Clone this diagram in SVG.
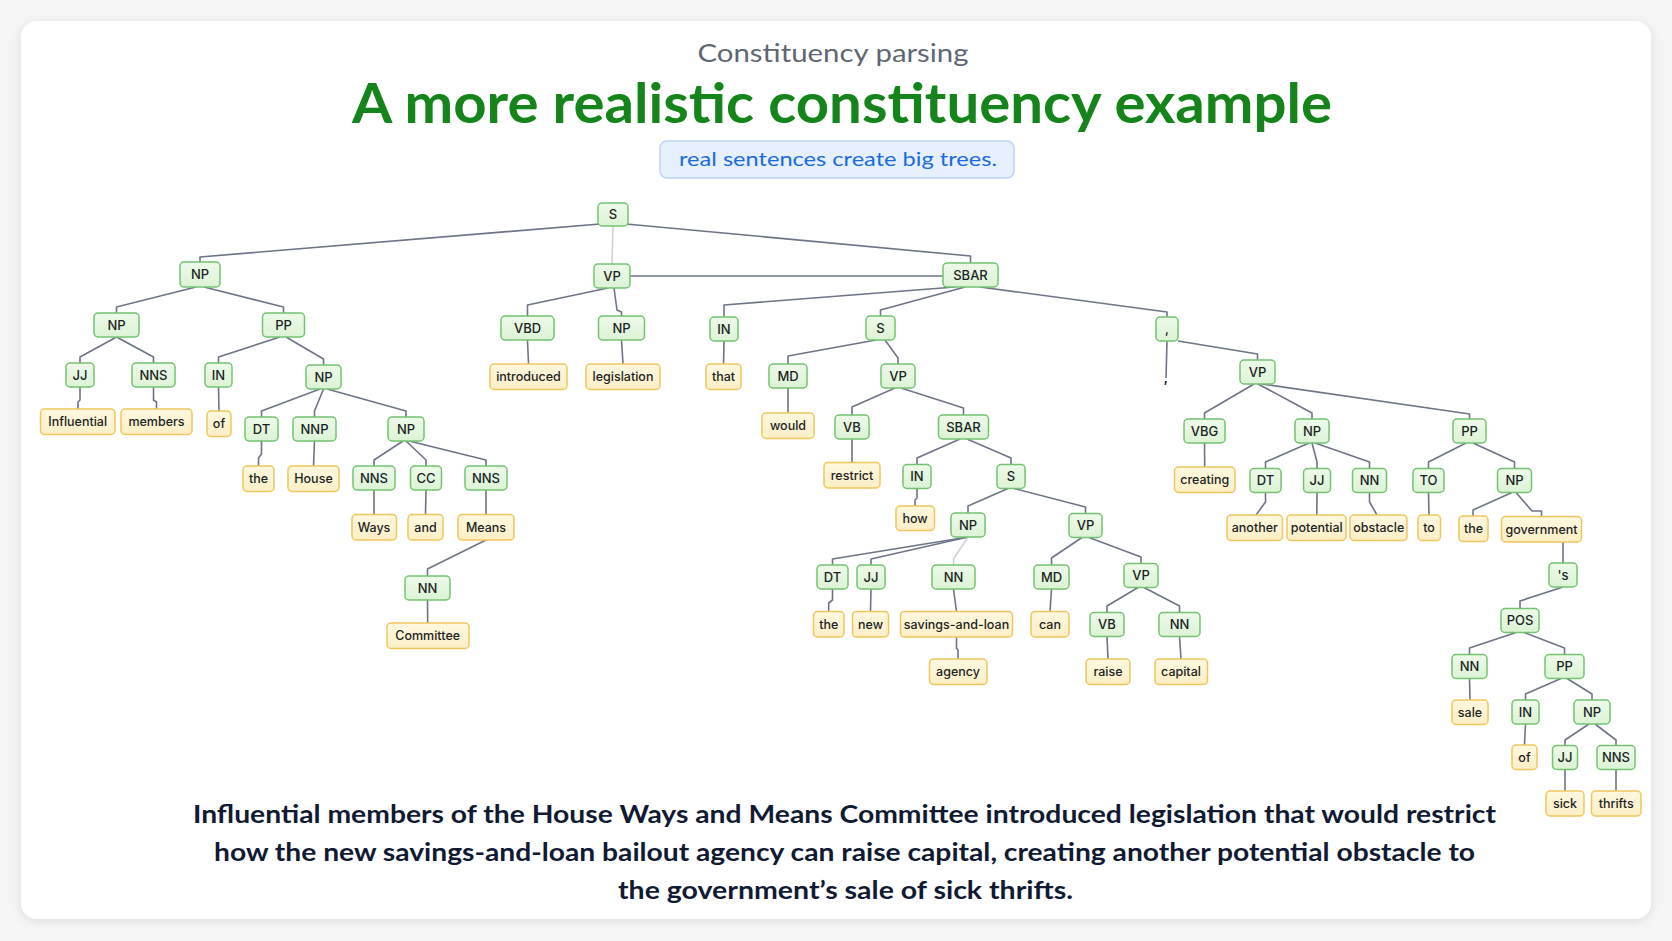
<svg xmlns="http://www.w3.org/2000/svg" width="1672" height="941" viewBox="0 0 1672 941">
<defs>
<filter id="sh" x="-5%" y="-5%" width="110%" height="110%">
<feDropShadow dx="0" dy="2" stdDeviation="5" flood-color="#000" flood-opacity="0.10"/>
</filter>
<linearGradient id="gg" x1="0" y1="0" x2="0" y2="1"><stop offset="0" stop-color="#eefaea"/><stop offset="1" stop-color="#dcf3d5"/></linearGradient>
<linearGradient id="yg" x1="0" y1="0" x2="0" y2="1"><stop offset="0" stop-color="#fef8e0"/><stop offset="1" stop-color="#fcefc6"/></linearGradient>
</defs>
<style>
.nt rect{fill:url(#gg);stroke:#74c271;stroke-width:1.5}
.lf rect{fill:url(#yg);stroke:#efc65c;stroke-width:1.5}
.nt text,.lf text{font-family:Inter,"Liberation Sans",sans-serif;font-size:13px;font-weight:500;fill:#1c1f24;text-anchor:middle}
.lf text{font-size:12.5px}
#connectors path{fill:none;stroke:#6c7486;stroke-width:1.6;stroke-linejoin:round}
#connectors path.faint{stroke:#cdd1d8}
.hd{font-family:Lato,"Liberation Sans",sans-serif;text-anchor:middle}
</style>
<rect x="0" y="0" width="1672" height="941" fill="#f5f5f6"/>
<rect x="21" y="21" width="1630" height="898" rx="16" fill="#ffffff" filter="url(#sh)"/>

<text class="hd" x="833" y="62" font-size="25" fill="#5f6674" textLength="271" lengthAdjust="spacingAndGlyphs">Constituency parsing</text>
<text class="hd" x="842" y="123" font-size="55" font-weight="bold" fill="#15841a" textLength="980" lengthAdjust="spacingAndGlyphs">A more realistic constituency example</text>
<g id="subtitle">
<rect x="660" y="141" width="354" height="37" rx="7" fill="#e6f0fe" stroke="#bcd4f6" stroke-width="1.5"/>
<text class="hd" x="838" y="166" font-size="20" fill="#1a6be0" textLength="318" lengthAdjust="spacingAndGlyphs">real sentences create big trees.</text>
</g>

<g id="connectors">
<path d="M600 224 L200 257 L200 262"/>
<path class="faint" d="M613 226 L612 264"/>
<path d="M626 224 L970.5 256 L970.5 263"/>
<path d="M630 276 L943 276"/>
<path d="M196 287 L116.5 307 L116.5 313"/>
<path d="M204 287 L283.5 307 L283.5 313"/>
<path d="M116.5 337 L80 357 L80 363"/>
<path d="M116.5 337 L153.5 357 L153.5 363"/>
<path d="M280 337 L218.5 357 L218.5 363"/>
<path d="M286 337 L323.5 359 L323.5 365"/>
<path d="M80 387 L80 400 L78 402 L78 409"/>
<path d="M153.5 387 L153.5 400 L156.5 402 L156.5 409"/>
<path d="M218.5 387 L219 411"/>
<path d="M320 389 L261.5 411 L261.5 417"/>
<path d="M323.5 389 L314.5 411 L314.5 417"/>
<path d="M327 389 L406 411 L406 417"/>
<path d="M261.5 441 L261.5 454 L258.5 458 L258.5 466"/>
<path d="M314.5 441 L313.5 466"/>
<path d="M403 441 L374 460 L374 466"/>
<path d="M406 441 L426 460 L426 466"/>
<path d="M409 441 L486 460 L486 466"/>
<path d="M374 490 L374 514.5"/>
<path d="M426 490 L425.5 514.5"/>
<path d="M486 490 L486 514.5"/>
<path d="M486 540 L427.5 569 L427.5 576"/>
<path d="M427.5 600 L427.7 623"/>
<path d="M608 288 L527.5 305 L527.5 316"/>
<path d="M614 288 L617 310 L621.5 312 L621.5 316"/>
<path d="M527.5 340 L528.5 364"/>
<path d="M621.5 340 L623 364"/>
<path d="M955 287 L724 305 L724 317"/>
<path d="M965 287 L880.5 310 L880.5 316"/>
<path d="M980 287 L1167 312 L1167 317"/>
<path d="M724 341 L723.5 364"/>
<path d="M876 340 L788 356 L788 364"/>
<path d="M885 340 L898 358 L898 364"/>
<path d="M788 388 L788 413"/>
<path d="M895 388 L852 407 L852 415"/>
<path d="M901 388 L963.5 408 L963.5 415"/>
<path d="M852 439 L852 462.5"/>
<path d="M960 439 L917 458 L917 464.5"/>
<path d="M967 439 L1011 458 L1011 464.5"/>
<path d="M917 488.5 L917 498 L915 500 L915 506"/>
<path d="M1008 488.5 L968 506 L968 513"/>
<path d="M1014 488.5 L1085.5 507 L1085.5 513.5"/>
<path d="M968 537 L832.5 559 L832.5 565"/>
<path d="M968 537 L871 559 L871 565"/>
<path class="faint" d="M968 537 L953.5 559 L953.5 565"/>
<path d="M832.5 589 L832.5 600 L828.7 603 L828.7 611.5"/>
<path d="M871 589 L870.5 611.5"/>
<path d="M953.5 589 L956.5 611.5"/>
<path d="M956.5 637 L956.5 648 L958 650 L958 659"/>
<path d="M1082 537.5 L1051.5 558 L1051.5 565"/>
<path d="M1089 537.5 L1141 557 L1141 563.5"/>
<path d="M1051.5 589 L1050 611.5"/>
<path d="M1138 587.5 L1107 606 L1107 612.5"/>
<path d="M1144 587.5 L1179.5 606 L1179.5 612.5"/>
<path d="M1107 636.5 L1108 659"/>
<path d="M1179.5 636.5 L1181 659"/>
<path d="M1178 341 L1257.5 354 L1257.5 360"/>
<path d="M1167 341 L1166 378"/>
<path d="M1254 384 L1204.5 413 L1204.5 419"/>
<path d="M1258 384 L1312 413 L1312 419"/>
<path d="M1262 384 L1469.5 414 L1469.5 419"/>
<path d="M1204.5 443 L1204.7 467"/>
<path d="M1309 443 L1265.5 462 L1265.5 468.5"/>
<path d="M1312 443 L1317 462 L1317 468.5"/>
<path d="M1315 443 L1369.5 462 L1369.5 468.5"/>
<path d="M1466 443 L1428.5 462 L1428.5 468.5"/>
<path d="M1473 443 L1514.5 462 L1514.5 468.5"/>
<path d="M1265.5 492.5 L1265.5 502 L1256 515"/>
<path d="M1317 492.5 L1316.8 515"/>
<path d="M1369.5 492.5 L1369.5 502 L1377 515"/>
<path d="M1428.5 492.5 L1429 515"/>
<path d="M1512 492.5 L1473 510 L1473 516"/>
<path d="M1516 492.5 L1532 511 L1541.5 511 L1541.5 516.5"/>
<path d="M1563 541.5 L1563 563"/>
<path d="M1563 587 L1520 601 L1520 608.5"/>
<path d="M1516 632.5 L1469.5 648 L1469.5 654.5"/>
<path d="M1524 632.5 L1564.5 648 L1564.5 654.5"/>
<path d="M1469.5 678.5 L1470 700"/>
<path d="M1561 678.5 L1525.5 694 L1525.5 700"/>
<path d="M1567 678.5 L1592 694 L1592 700"/>
<path d="M1525.5 724 L1524.5 745"/>
<path d="M1589 724 L1565 740 L1565 745.5"/>
<path d="M1595 724 L1616 740 L1616 745.5"/>
<path d="M1565 769.5 L1565 791"/>
<path d="M1616 769.5 L1616 791"/>
</g>

<g id="n-S0" class="nt"><rect x="598" y="203" width="30" height="23" rx="4"/><text x="613" y="219">S</text></g>
<g id="n-NPa" class="nt"><rect x="180" y="262" width="40" height="25" rx="4"/><text x="200" y="279">NP</text></g>
<g id="n-VPa" class="nt"><rect x="594" y="264" width="36" height="24" rx="4"/><text x="612" y="280.5">VP</text></g>
<g id="n-SBARa" class="nt"><rect x="943" y="263" width="55" height="24" rx="4"/><text x="970.5" y="279.5">SBAR</text></g>
<g id="n-NPb" class="nt"><rect x="94" y="313" width="45" height="24" rx="4"/><text x="116.5" y="329.5">NP</text></g>
<g id="n-PPa" class="nt"><rect x="262.5" y="313" width="42" height="24" rx="4"/><text x="283.5" y="329.5">PP</text></g>
<g id="n-VBD" class="nt"><rect x="501" y="316" width="53" height="24" rx="4"/><text x="527.5" y="332.5">VBD</text></g>
<g id="n-NPc" class="nt"><rect x="598.5" y="316" width="46" height="24" rx="4"/><text x="621.5" y="332.5">NP</text></g>
<g id="n-INa" class="nt"><rect x="710" y="317" width="28" height="24" rx="4"/><text x="724" y="333.5">IN</text></g>
<g id="n-Sb" class="nt"><rect x="866" y="316" width="29" height="24" rx="4"/><text x="880.5" y="332.5">S</text></g>
<g id="n-COMMA" class="nt"><rect x="1156" y="317" width="22" height="24" rx="4"/><text x="1167" y="333.5">,</text></g>
<g id="n-JJa" class="nt"><rect x="66" y="363" width="28" height="24" rx="4"/><text x="80" y="379.5">JJ</text></g>
<g id="n-NNSa" class="nt"><rect x="132" y="363" width="43" height="24" rx="4"/><text x="153.5" y="379.5">NNS</text></g>
<g id="n-INb" class="nt"><rect x="205" y="363" width="27" height="24" rx="4"/><text x="218.5" y="379.5">IN</text></g>
<g id="n-NPd" class="nt"><rect x="306" y="365" width="35" height="24" rx="4"/><text x="323.5" y="381.5">NP</text></g>
<g id="n-MDa" class="nt"><rect x="769" y="364" width="38" height="24" rx="4"/><text x="788" y="380.5">MD</text></g>
<g id="n-VPb" class="nt"><rect x="881" y="364" width="34" height="24" rx="4"/><text x="898" y="380.5">VP</text></g>
<g id="n-VPc" class="nt"><rect x="1240" y="360" width="35" height="24" rx="4"/><text x="1257.5" y="376.5">VP</text></g>
<g id="n-DTa" class="nt"><rect x="245" y="417" width="33" height="24" rx="4"/><text x="261.5" y="433.5">DT</text></g>
<g id="n-NNP" class="nt"><rect x="293" y="417" width="43" height="24" rx="4"/><text x="314.5" y="433.5">NNP</text></g>
<g id="n-NPe" class="nt"><rect x="388" y="417" width="36" height="24" rx="4"/><text x="406" y="433.5">NP</text></g>
<g id="n-VBa" class="nt"><rect x="835" y="415" width="34" height="24" rx="4"/><text x="852" y="431.5">VB</text></g>
<g id="n-SBARb" class="nt"><rect x="938.5" y="415" width="50" height="24" rx="4"/><text x="963.5" y="431.5">SBAR</text></g>
<g id="n-VBG" class="nt"><rect x="1184" y="419" width="41" height="24" rx="4"/><text x="1204.5" y="435.5">VBG</text></g>
<g id="n-NPf" class="nt"><rect x="1295" y="419" width="34" height="24" rx="4"/><text x="1312" y="435.5">NP</text></g>
<g id="n-PPb" class="nt"><rect x="1453" y="419" width="33" height="24" rx="4"/><text x="1469.5" y="435.5">PP</text></g>
<g id="n-NNSb" class="nt"><rect x="353" y="466" width="42" height="24" rx="4"/><text x="374" y="482.5">NNS</text></g>
<g id="n-CC" class="nt"><rect x="410.5" y="466" width="31" height="24" rx="4"/><text x="426" y="482.5">CC</text></g>
<g id="n-NNSc" class="nt"><rect x="465" y="466" width="42" height="24" rx="4"/><text x="486" y="482.5">NNS</text></g>
<g id="n-INc" class="nt"><rect x="903" y="464.5" width="28" height="24" rx="4"/><text x="917" y="481">IN</text></g>
<g id="n-Sc" class="nt"><rect x="997" y="464.5" width="28" height="24" rx="4"/><text x="1011" y="481">S</text></g>
<g id="n-DTb" class="nt"><rect x="1250" y="468.5" width="31" height="24" rx="4"/><text x="1265.5" y="485">DT</text></g>
<g id="n-JJb" class="nt"><rect x="1303.5" y="468.5" width="27" height="24" rx="4"/><text x="1317" y="485">JJ</text></g>
<g id="n-NNa" class="nt"><rect x="1352.5" y="468.5" width="34" height="24" rx="4"/><text x="1369.5" y="485">NN</text></g>
<g id="n-TO" class="nt"><rect x="1413" y="468.5" width="31" height="24" rx="4"/><text x="1428.5" y="485">TO</text></g>
<g id="n-NPg" class="nt"><rect x="1497.5" y="468.5" width="34" height="24" rx="4"/><text x="1514.5" y="485">NP</text></g>
<g id="n-NPh" class="nt"><rect x="951" y="513" width="34" height="24" rx="4"/><text x="968" y="529.5">NP</text></g>
<g id="n-VPd" class="nt"><rect x="1069" y="513.5" width="33" height="24" rx="4"/><text x="1085.5" y="530">VP</text></g>
<g id="n-POSs" class="nt"><rect x="1549" y="563" width="28" height="24" rx="4"/><text x="1563" y="579.5">'s</text></g>
<g id="n-DTc" class="nt"><rect x="817" y="565" width="31" height="24" rx="4"/><text x="832.5" y="581.5">DT</text></g>
<g id="n-JJc" class="nt"><rect x="857" y="565" width="28" height="24" rx="4"/><text x="871" y="581.5">JJ</text></g>
<g id="n-NNb" class="nt"><rect x="932" y="565" width="43" height="24" rx="4"/><text x="953.5" y="581.5">NN</text></g>
<g id="n-MDb" class="nt"><rect x="1034" y="565" width="35" height="24" rx="4"/><text x="1051.5" y="581.5">MD</text></g>
<g id="n-VPe" class="nt"><rect x="1124" y="563.5" width="34" height="24" rx="4"/><text x="1141" y="580">VP</text></g>
<g id="n-NNc" class="nt"><rect x="405" y="576" width="45" height="24" rx="4"/><text x="427.5" y="592.5">NN</text></g>
<g id="n-POS" class="nt"><rect x="1501" y="608.5" width="38" height="24" rx="4"/><text x="1520" y="625">POS</text></g>
<g id="n-VBb" class="nt"><rect x="1090" y="612.5" width="34" height="24" rx="4"/><text x="1107" y="629">VB</text></g>
<g id="n-NNd" class="nt"><rect x="1159" y="612.5" width="41" height="24" rx="4"/><text x="1179.5" y="629">NN</text></g>
<g id="n-NNe" class="nt"><rect x="1452" y="654.5" width="35" height="24" rx="4"/><text x="1469.5" y="671">NN</text></g>
<g id="n-PPc" class="nt"><rect x="1545" y="654.5" width="39" height="24" rx="4"/><text x="1564.5" y="671">PP</text></g>
<g id="n-INd" class="nt"><rect x="1512" y="700" width="27" height="24" rx="4"/><text x="1525.5" y="716.5">IN</text></g>
<g id="n-NPi" class="nt"><rect x="1574" y="700" width="36" height="24" rx="4"/><text x="1592" y="716.5">NP</text></g>
<g id="n-JJd" class="nt"><rect x="1552.5" y="745.5" width="25" height="24" rx="4"/><text x="1565" y="762">JJ</text></g>
<g id="n-NNSd" class="nt"><rect x="1597" y="745.5" width="38" height="24" rx="4"/><text x="1616" y="762">NNS</text></g>

<g id="w-Influential" class="lf"><rect x="40.5" y="409" width="74.5" height="25.5" rx="4"/><text x="77.7" y="426">Influential</text></g>
<g id="w-members" class="lf"><rect x="121" y="409" width="71" height="25.5" rx="4"/><text x="156.5" y="426">members</text></g>
<g id="w-of1" class="lf"><rect x="207" y="411" width="24" height="25.5" rx="4"/><text x="219" y="428">of</text></g>
<g id="w-introduced" class="lf"><rect x="490" y="364" width="77" height="25.5" rx="4"/><text x="528.5" y="381">introduced</text></g>
<g id="w-legislation" class="lf"><rect x="586" y="364" width="74" height="25.5" rx="4"/><text x="623" y="381">legislation</text></g>
<g id="w-that" class="lf"><rect x="706" y="364" width="35" height="25.5" rx="4"/><text x="723.5" y="381">that</text></g>
<g id="w-would" class="lf"><rect x="762" y="413" width="52" height="25.5" rx="4"/><text x="788" y="430">would</text></g>
<g id="w-the1" class="lf"><rect x="243" y="466" width="31" height="25.5" rx="4"/><text x="258.5" y="483">the</text></g>
<g id="w-House" class="lf"><rect x="288" y="466" width="51" height="25.5" rx="4"/><text x="313.5" y="483">House</text></g>
<g id="w-restrict" class="lf"><rect x="824" y="462.5" width="56" height="25.5" rx="4"/><text x="852" y="479.5">restrict</text></g>
<g id="w-creating" class="lf"><rect x="1174.5" y="467" width="60.5" height="25.5" rx="4"/><text x="1204.7" y="484">creating</text></g>
<g id="w-Ways" class="lf"><rect x="352" y="514.5" width="44.5" height="25.5" rx="4"/><text x="374" y="531.5">Ways</text></g>
<g id="w-and" class="lf"><rect x="408" y="514.5" width="35" height="25.5" rx="4"/><text x="425.5" y="531.5">and</text></g>
<g id="w-Means" class="lf"><rect x="458" y="514.5" width="56" height="25.5" rx="4"/><text x="486" y="531.5">Means</text></g>
<g id="w-how" class="lf"><rect x="896" y="506" width="38.5" height="24.5" rx="4"/><text x="915" y="522.5">how</text></g>
<g id="w-another" class="lf"><rect x="1227" y="515" width="55.5" height="25.5" rx="4"/><text x="1254.8" y="532">another</text></g>
<g id="w-potential" class="lf"><rect x="1287" y="515" width="59" height="25.5" rx="4"/><text x="1316.8" y="532">potential</text></g>
<g id="w-obstacle" class="lf"><rect x="1350" y="515" width="57" height="25.5" rx="4"/><text x="1378.7" y="532">obstacle</text></g>
<g id="w-to" class="lf"><rect x="1418" y="515" width="22.5" height="25.5" rx="4"/><text x="1429" y="532">to</text></g>
<g id="w-the2" class="lf"><rect x="1459" y="516" width="29" height="25.5" rx="4"/><text x="1473.5" y="533">the</text></g>
<g id="w-government" class="lf"><rect x="1501.5" y="516.5" width="80" height="25.5" rx="4"/><text x="1541.5" y="533.5">government</text></g>
<g id="w-Committee" class="lf"><rect x="387" y="623" width="82" height="25.5" rx="4"/><text x="427.7" y="640">Committee</text></g>
<g id="w-the3" class="lf"><rect x="813.5" y="611.5" width="30.5" height="25.5" rx="4"/><text x="828.7" y="628.5">the</text></g>
<g id="w-new" class="lf"><rect x="852.5" y="611.5" width="36" height="25.5" rx="4"/><text x="870.5" y="628.5">new</text></g>
<g id="w-savings" class="lf"><rect x="900.5" y="611.5" width="112" height="25.5" rx="4"/><text x="956.5" y="628.5">savings-and-loan</text></g>
<g id="w-can" class="lf"><rect x="1031" y="611.5" width="38" height="25.5" rx="4"/><text x="1050" y="628.5">can</text></g>
<g id="w-agency" class="lf"><rect x="929.5" y="659" width="57.5" height="25.5" rx="4"/><text x="958" y="676">agency</text></g>
<g id="w-raise" class="lf"><rect x="1086" y="659" width="44" height="25.5" rx="4"/><text x="1108" y="676">raise</text></g>
<g id="w-capital" class="lf"><rect x="1155" y="659" width="52.5" height="25.5" rx="4"/><text x="1181" y="676">capital</text></g>
<g id="w-sale" class="lf"><rect x="1452" y="700" width="36" height="24.5" rx="4"/><text x="1470" y="716.5">sale</text></g>
<g id="w-of2" class="lf"><rect x="1512" y="745" width="25" height="24.5" rx="4"/><text x="1524.5" y="761.5">of</text></g>
<g id="w-sick" class="lf"><rect x="1546" y="791" width="38" height="25" rx="4"/><text x="1565" y="808">sick</text></g>
<g id="w-thrifts" class="lf"><rect x="1591.5" y="791" width="49.5" height="25" rx="4"/><text x="1616.2" y="808">thrifts</text></g>
<g id="w-comma"><text x="1166" y="382" font-family="Inter,'Liberation Sans',sans-serif" font-size="13" font-weight="700" fill="#1c1f24" text-anchor="middle">,</text></g>

<g id="sentence" class="hd" font-size="25" font-weight="bold" fill="#111a33">
<text x="844.5" y="823" textLength="1303" lengthAdjust="spacingAndGlyphs">Influential members of the House Ways and Means Committee introduced legislation that would restrict</text>
<text x="844.5" y="861" textLength="1261" lengthAdjust="spacingAndGlyphs">how the new savings-and-loan bailout agency can raise capital, creating another potential obstacle to</text>
<text x="845.5" y="899" textLength="455" lengthAdjust="spacingAndGlyphs">the government’s sale of sick thrifts.</text>
</g>
</svg>
